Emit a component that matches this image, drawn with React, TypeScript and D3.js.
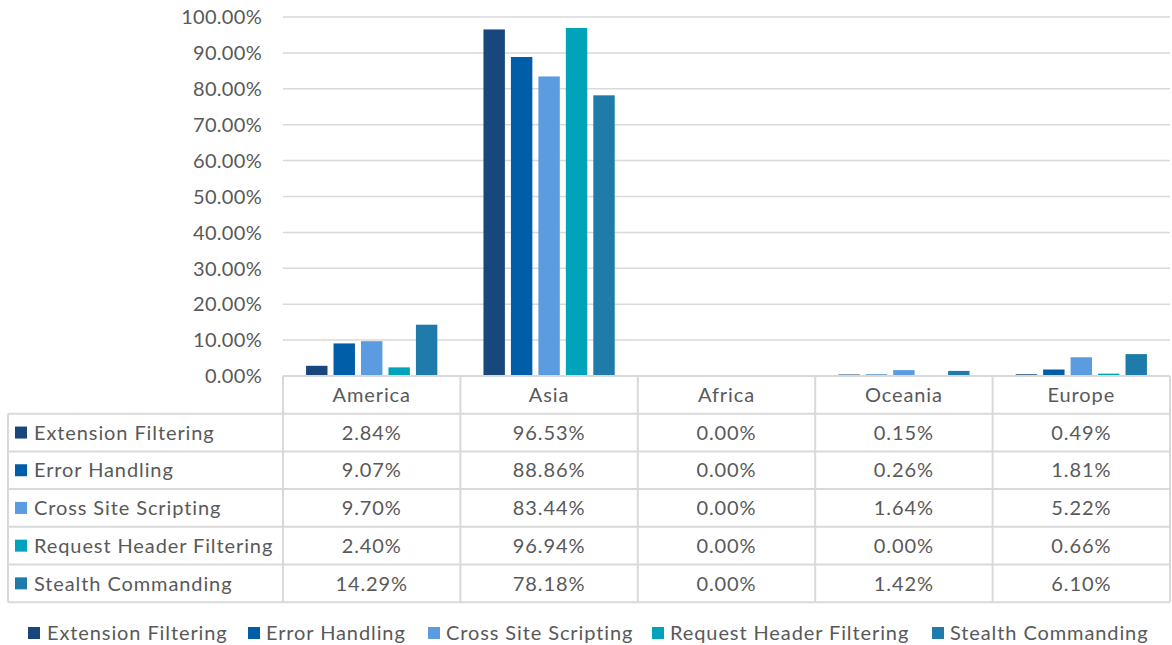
import React from "react";
import * as d3 from "d3";

const categories = ["America", "Asia", "Africa", "Oceania", "Europe"];
const seriesNames = [
  "Extension Filtering",
  "Error Handling",
  "Cross Site Scripting",
  "Request Header Filtering",
  "Stealth Commanding",
];
const extensionFiltering = [2.84, 96.53, 0.0, 0.15, 0.49];
const errorHandling = [9.07, 88.86, 0.0, 0.26, 1.81];
const crossSiteScripting = [9.7, 83.44, 0.0, 1.64, 5.22];
const requestHeaderFiltering = [2.4, 96.94, 0.0, 0.0, 0.66];
const stealthCommanding = [14.29, 78.18, 0.0, 1.42, 6.1];
const seriesValues = [
  extensionFiltering,
  errorHandling,
  crossSiteScripting,
  requestHeaderFiltering,
  stealthCommanding,
];
const colors = ["#17477B", "#005DA8", "#5B9CE1", "#00A3B9", "#1F7BAA"];
const yTicks = [0, 10, 20, 30, 40, 50, 60, 70, 80, 90, 100];

const W = 1172;
const H = 645;
const FONT = "Lato, 'Open Sans', sans-serif";
const TEXT = "#595959";
const GRID = "#D9D9D9";

export default function App() {
  const plotLeft = 283;
  const plotRight = 1170;
  const yTop = 17;
  const yBottom = 376;
  const x = d3.scaleBand<string>().domain(categories).range([plotLeft, plotRight]);
  const y = d3.scaleLinear().domain([0, 100]).range([yBottom, yTop]);
  const inner = d3
    .scaleBand<number>()
    .domain(seriesNames.map((_, i) => i))
    .range([0, x.bandwidth()])
    .paddingInner(0.22)
    .paddingOuter(0.84);

  const rowTop = 376;
  const rowH = 37.7;
  const tableLeft = 8;
  const fs = 20;
  const ls = 0.9;

  const legendItems = [
    { sq: 28, tx: 47 },
    { sq: 248, tx: 266 },
    { sq: 428, tx: 446 },
    { sq: 652, tx: 670 },
    { sq: 932, tx: 950 },
  ];

  return (
    <svg width={W} height={H} style={{ position: "absolute", left: 0, top: 0, background: "#fff" }}>
      {yTicks.map((t) => (
        <line key={"g" + t} x1={plotLeft} x2={plotRight} y1={y(t)} y2={y(t)} stroke={GRID} strokeWidth={1.5} />
      ))}
      {yTicks.map((t) => (
        <text
          key={"yl" + t}
          x={262}
          y={y(t)}
          dy="0.36em"
          textAnchor="end"
          fontFamily={FONT}
          fontSize={fs}
          fill={TEXT}
          letterSpacing={0.3}
        >
          {d3.format(".2f")(t) + "%"}
        </text>
      ))}
      {categories.map((c, ci) =>
        seriesValues.map((vals, si) => {
          const v = vals[ci];
          if (v <= 0) return null;
          const bx = (x(c) as number) + (inner(si) as number);
          const h = Math.max(1.5, yBottom - y(v));
          return (
            <rect
              key={c + si}
              x={bx}
              y={yBottom - h}
              width={inner.bandwidth()}
              height={h}
              fill={colors[si]}
            />
          );
        })
      )}
      <g>
        <line x1={plotLeft} x2={plotRight} y1={rowTop} y2={rowTop} stroke={GRID} strokeWidth={2} />
        {d3.range(1, 7).map((r) => (
          <line
            key={"h" + r}
            x1={tableLeft}
            x2={plotRight}
            y1={rowTop + r * rowH}
            y2={rowTop + r * rowH}
            stroke={GRID}
            strokeWidth={2}
          />
        ))}
        <line x1={tableLeft} x2={tableLeft} y1={rowTop + rowH} y2={rowTop + 6 * rowH} stroke={GRID} strokeWidth={2} />
        {categories.map((c) => (
          <line
            key={"v" + c}
            x1={x(c) as number}
            x2={x(c) as number}
            y1={rowTop}
            y2={rowTop + 6 * rowH}
            stroke={GRID}
            strokeWidth={2}
          />
        ))}
        <line x1={plotRight} x2={plotRight} y1={rowTop} y2={rowTop + 6 * rowH} stroke={GRID} strokeWidth={2} />
        {categories.map((c) => (
          <text
            key={"c" + c}
            x={(x(c) as number) + x.bandwidth() / 2}
            y={rowTop + rowH / 2}
            dy="0.36em"
            textAnchor="middle"
            fontFamily={FONT}
            fontSize={fs}
            fill={TEXT}
            letterSpacing={ls}
          >
            {c}
          </text>
        ))}
        {seriesNames.map((s, si) => {
          const cy = rowTop + (si + 1.5) * rowH;
          return (
            <g key={"r" + s}>
              <rect x={15} y={cy - 6} width={12} height={12} fill={colors[si]} />
              <text x={34} y={cy} dy="0.36em" fontFamily={FONT} fontSize={fs} fill={TEXT} letterSpacing={ls}>
                {s}
              </text>
              {categories.map((c, ci) => (
                <text
                  key={"t" + c}
                  x={(x(c) as number) + x.bandwidth() / 2}
                  y={cy}
                  dy="0.36em"
                  textAnchor="middle"
                  fontFamily={FONT}
                  fontSize={fs}
                  fill={TEXT}
                  letterSpacing={ls}
                >
                  {d3.format(".2f")(seriesValues[si][ci]) + "%"}
                </text>
              ))}
            </g>
          );
        })}
      </g>
      {seriesNames.map((s, si) => (
        <g key={"l" + s}>
          <rect x={legendItems[si].sq} y={627} width={12} height={12} fill={colors[si]} />
          <text
            x={legendItems[si].tx}
            y={633}
            dy="0.36em"
            fontFamily={FONT}
            fontSize={fs}
            fill={TEXT}
            letterSpacing={ls}
          >
            {s}
          </text>
        </g>
      ))}
    </svg>
  );
}
